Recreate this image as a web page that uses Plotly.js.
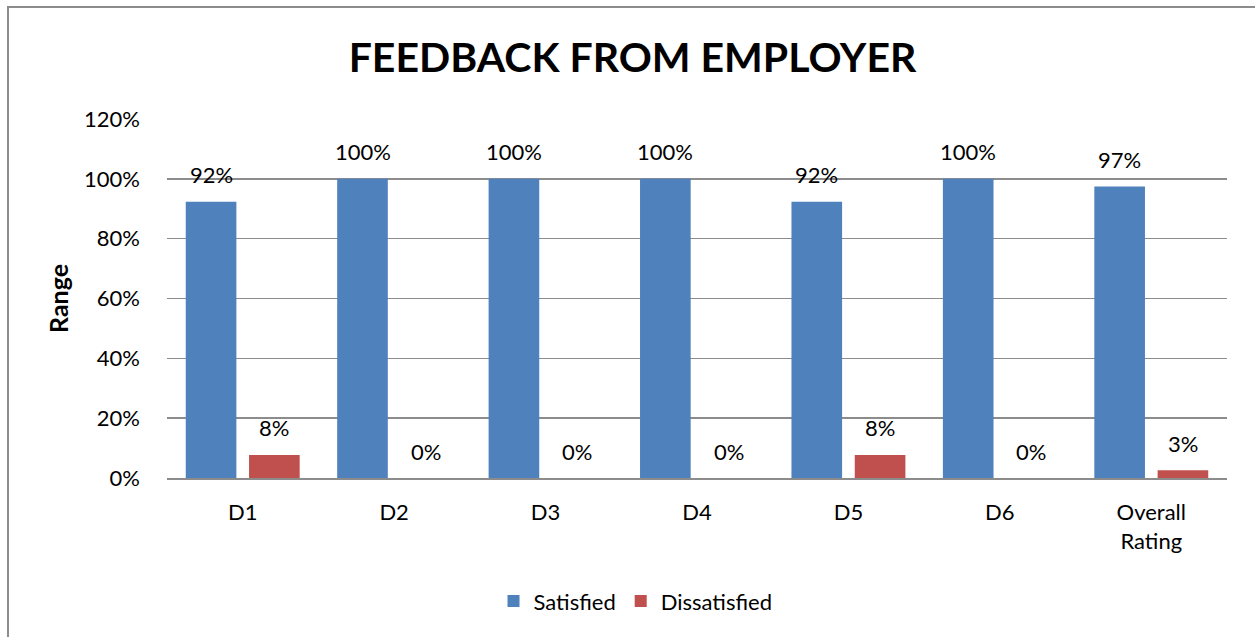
<!DOCTYPE html>
<html>
<head>
<meta charset="utf-8">
<script src="https://cdn.plot.ly/plotly-3.0.1.min.js"></script>
<style>
  html, body { margin: 0; padding: 0; background: #ffffff; overflow: hidden; }
  #wrap { position: relative; width: 1255px; height: 637px; }
  #chart { position: absolute; left: 0; top: 0; width: 1255px; height: 637px; }
  #frame { position: absolute; left: 7px; top: 6px; width: 1300px; height: 700px;
           border-left: 2px solid #8c8c8c; border-top: 2px solid #8c8c8c; pointer-events: none; }
</style>
</head>
<body>
<div id="wrap">
  <div id="chart"></div>
  <div id="frame"></div>
</div>
<script>
const categories = ["D1", "D2", "D3", "D4", "D5", "D6", "Overall<br>Rating"];
const satisfied = [0.923, 1.0, 1.0, 1.0, 0.923, 1.0, 0.974];
const dissatisfied = [0.077, 0.0, 0.0, 0.0, 0.077, 0.0, 0.026];
const seriesNames = ["Satisfied", "Dissatisfied"];
const tickVals = [0, 0.2, 0.4, 0.6, 0.8, 1.0, 1.2];
const tickText = ["0%", "20%", "40%", "60%", "80%", "100%", "120%"];

const FONT = "Lato, 'Open Sans', sans-serif";
const blue = "#4F81BD";
const red = "#C0504D";

const traces = [
  { type: "bar", name: seriesNames[0], x: categories, y: satisfied,
    marker: { color: blue }, hoverinfo: "skip" },
  { type: "bar", name: seriesNames[1], x: categories, y: dissatisfied,
    marker: { color: red }, hoverinfo: "skip" }
];

const pct = v => Math.round(v * 100) + "%";
const annotations = [];
categories.forEach((c, i) => {
  annotations.push({ x: c, y: satisfied[i], xref: "x", yref: "y", text: pct(satisfied[i]),
    showarrow: false, xshift: -31.6, yshift: 27, yanchor: "middle",
    font: { family: FONT, size: 22, color: "#000" } });
  annotations.push({ x: c, y: dissatisfied[i], xref: "x", yref: "y", text: pct(dissatisfied[i]),
    showarrow: false, xshift: 31.6, yshift: 27, yanchor: "middle",
    font: { family: FONT, size: 22, color: "#000" } });
});

const layout = {
  width: 1255, height: 637,
  margin: { l: 167, r: 28, t: 119, b: 159 },
  paper_bgcolor: "rgba(0,0,0,0)",
  plot_bgcolor: "#ffffff",
  font: { family: FONT, size: 22, color: "#000" },
  title: { text: "<b>FEEDBACK FROM EMPLOYER</b>", x: 0.504, xanchor: "center",
           y: 0.909, yanchor: "middle", yref: "container",
           font: { family: FONT, size: 41, color: "#000" } },
  barmode: "group",
  bargap: 0.164,
  bargroupgap: 0.2,
  showlegend: true,
  legend: { orientation: "h", x: 0.442, xanchor: "center", y: -0.343, yanchor: "middle",
            font: { family: FONT, size: 22, color: "#000" }, traceorder: "normal",
            itemwidth: 30 },
  xaxis: { type: "category", showgrid: false, showline: true, linecolor: "#8c8c8c", linewidth: 2,
           ticks: "", ticklabelstandoff: 14, tickfont: { family: FONT, size: 22, color: "#000" },
           fixedrange: true, zeroline: false },
  yaxis: { range: [0, 1.2], tickvals: tickVals, ticktext: tickText, showgrid: true,
           gridcolor: "#8c8c8c", gridwidth: 1.5, zeroline: false, showline: false, ticks: "",
           ticklabelstandoff: 26, tickfont: { family: FONT, size: 22, color: "#000" },
           title: { text: "<b>Range</b>", standoff: 8, font: { family: FONT, size: 25, color: "#000" } },
           fixedrange: true },
  annotations: annotations
};

Plotly.newPlot("chart", traces, layout, { displayModeBar: false, staticPlot: true });
</script>
</body>
</html>
